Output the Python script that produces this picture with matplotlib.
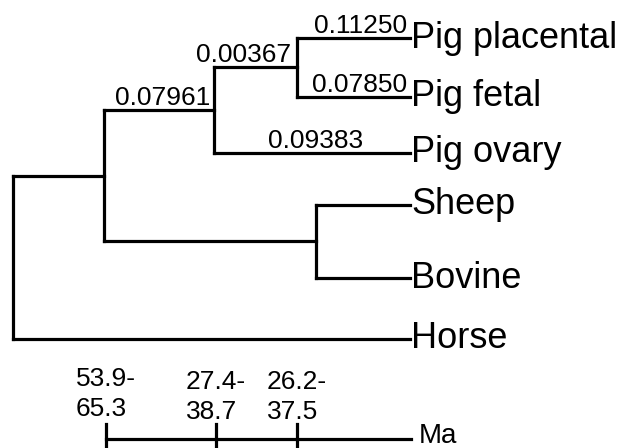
"""Pig / ruminant / horse gene tree with branch lengths and a divergence-time bar."""
import matplotlib
matplotlib.use("Agg")
import matplotlib.pyplot as plt

plt.rcParams["font.family"] = ["Liberation Sans", "DejaVu Sans"]

# leaves, top to bottom, and their row positions
leaves = ["Pig placental", "Pig fetal", "Pig ovary", "Sheep", "Bovine", "Horse"]
leaf_y = [38, 97, 153, 205, 278, 339]

# internal nodes: children and drawn depth (tree is a cladogram, not to scale)
nodes = {
    "root": ["A", "Horse"],
    "A": ["B", "D"],
    "B": ["C", "Pig ovary"],
    "C": ["Pig placental", "Pig fetal"],
    "D": ["Sheep", "Bovine"],
}
depth = {"root": 13, "A": 104, "B": 214, "C": 297, "D": 316}
tip_depth = 410

# branch lengths printed above branches (key = child node of the branch)
branch_len = {
    "Pig placental": "0.11250",
    "Pig fetal": "0.07850",
    "Pig ovary": "0.09383",
    "B": "0.07961",
    "C": "0.00367",
}

# divergence time ranges (Ma) at nodes A, B, C
time_nodes = ["A", "B", "C"]
time_labels = ["53.9-\n65.3", "27.4-\n38.7", "26.2-\n37.5"]

LW = 2.3
TIP_FS = 26
NUM_FS = 19

ypos = dict(zip(leaves, leaf_y))
xpos = {name: tip_depth for name in leaves}
xpos.update(depth)


def node_y(n):
    if n in ypos:
        return ypos[n]
    y = sum(node_y(c) for c in nodes[n]) / len(nodes[n])
    ypos[n] = y
    return y


node_y("root")

fig = plt.figure(figsize=(6.26, 4.48), dpi=100)
ax = fig.add_axes([0, 0, 1, 1])
ax.set_xlim(0, 626)
ax.set_ylim(448, 0)
ax.axis("off")

for parent, kids in nodes.items():
    px = xpos[parent]
    ys = [ypos[k] for k in kids]
    ax.plot([px, px], [min(ys), max(ys)], color="black", lw=LW,
            solid_capstyle="projecting")
    for k in kids:
        ax.plot([px, xpos[k]], [ypos[k], ypos[k]], color="black", lw=LW,
                solid_capstyle="projecting")
        if k in branch_len:
            if k == "C":
                tx, ha = xpos[k] - 6, "right"
            elif k in ("Pig placental", "Pig fetal"):
                tx, ha = xpos[k] - 3, "right"
            else:
                tx, ha = (px + xpos[k]) / 2 + 4, "center"
            ax.text(tx, ypos[k] - 5, branch_len[k], ha=ha, va="baseline",
                    fontsize=NUM_FS)

for name in leaves:
    ax.text(tip_depth + 1, ypos[name], name, ha="left", va="center",
            fontsize=TIP_FS)

# time scale bar
bar_y = 439
ax.plot([xpos[time_nodes[0]] + 2, tip_depth + 1], [bar_y, bar_y], color="black",
        lw=LW)
for i, (n, lab) in enumerate(zip(time_nodes, time_labels)):
    x = xpos[n] + 2 if n != "C" else xpos[n]
    ax.plot([x, x], [424, 452], color="black", lw=LW)
    ax.text(x, 421 if i == 0 else 424, lab, ha="center", va="bottom",
            multialignment="left", fontsize=NUM_FS, linespacing=1.3)
ax.text(tip_depth + 9, bar_y - 3, "Ma", ha="left", va="center", fontsize=20)

fig.savefig("out.png", dpi=100)
